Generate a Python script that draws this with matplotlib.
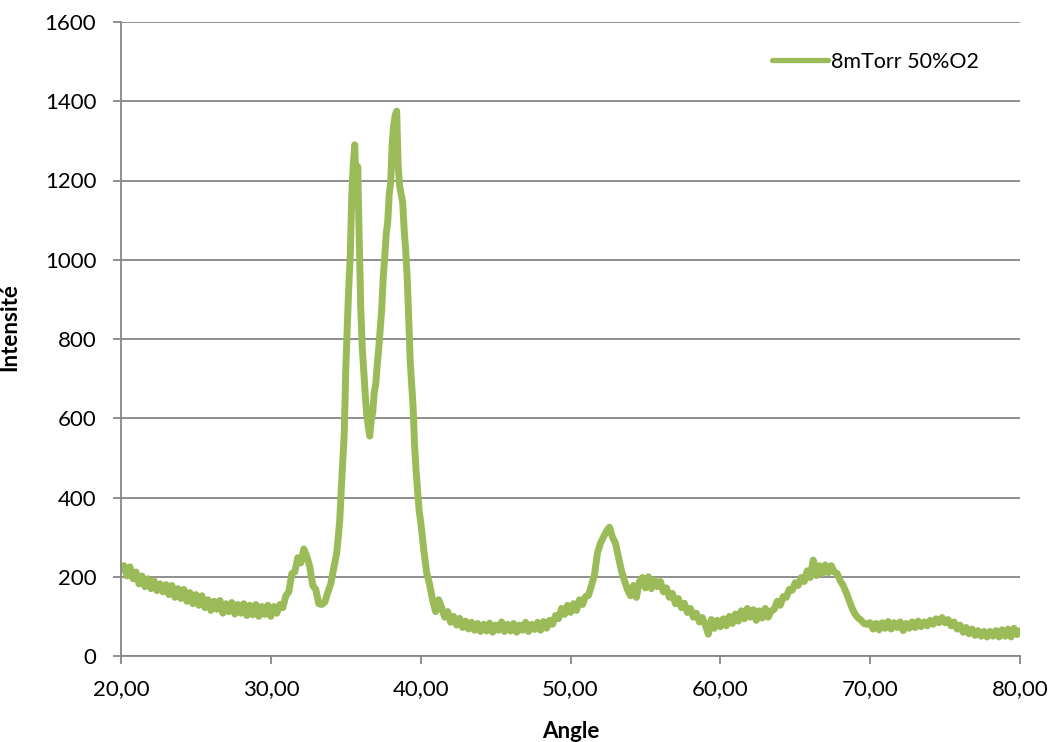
import numpy as np
import matplotlib
matplotlib.use("Agg")
import matplotlib.pyplot as plt

# ---- data ----
series_name = "8mTorr 50%O2"

# 20.0 -> 34.2 step 0.2
int_a = [218, 228, 202, 225, 195, 212, 182, 202, 175, 195,
         170, 190, 165, 182, 162, 180, 155, 178, 148, 170,
         145, 168, 138, 160, 132, 155, 128, 152, 122, 142,
         115, 138, 118, 140, 108, 132, 112, 135, 106, 130,
         108, 132, 102, 128, 104, 130, 100, 125, 105, 128,
         100, 125, 108, 130, 122, 152, 162, 208, 212, 248,
         235, 270, 252, 225, 178, 168, 132, 130, 136, 160,
         182, 222]
# 34.4 -> 39.9 step 0.1
int_b = [260, 300, 343, 420, 490, 560, 720, 830, 930, 1010,
         1160, 1240, 1290, 1170, 1235, 1050, 880, 780, 720, 660,
         610, 580, 555, 595, 615, 665, 685, 735, 775, 825,
         875, 955, 1005, 1065, 1095, 1165, 1195, 1295, 1340, 1365,
         1375, 1235, 1185, 1165, 1145, 1075, 1025, 955, 855, 745,
         685, 625, 525, 465, 415, 365]
# 40.0 -> 80.0 step 0.2
int_c = [340, 270, 210, 180, 140, 112, 142, 122, 98, 112,
         85, 100, 78, 95, 72, 88, 68, 85, 65, 82,
         62, 80, 63, 83, 60, 78, 65, 86, 62, 80,
         63, 82, 60, 78, 65, 85, 62, 80, 67, 85,
         65, 87, 70, 90, 80, 102, 94, 120, 105, 128,
         110, 132, 115, 142, 130, 150, 153, 178, 205, 260,
         285, 300, 315, 325, 300, 285, 250, 215, 190, 168,
         152, 178, 148, 188, 198, 172, 200, 170, 192, 175,
         188, 162, 172, 148, 158, 132, 145, 122, 133, 110,
         120, 98, 108, 86, 97, 78, 55, 92, 70, 90,
         74, 94, 76, 100, 82, 106, 88, 114, 94, 120,
         98, 117, 90, 114, 96, 120, 98, 114, 118, 138,
         128, 150, 148, 168, 166, 185, 178, 198, 188, 215,
         198, 242, 203, 228, 208, 230, 210, 228, 212, 208,
         190, 178, 160, 140, 120, 105, 96, 90, 82, 80,
         84, 68, 82, 66, 84, 70, 87, 68, 84, 72,
         86, 64, 82, 70, 86, 72, 88, 74, 86, 76,
         90, 80, 94, 84, 97, 84, 92, 76, 86, 68,
         78, 60, 72, 56, 68, 52, 64, 50, 62, 48,
         62, 50, 64, 48, 66, 50, 68, 48, 70, 54,
         64]

angle_a = 20.0 + 0.2 * np.arange(len(int_a))
angle_b = 34.4 + 0.1 * np.arange(len(int_b))
angle_c = 40.0 + 0.2 * np.arange(len(int_c))
angle = np.concatenate([angle_a, angle_b, angle_c])
intensity = np.concatenate([int_a, int_b, int_c])

x_ticks = [20, 30, 40, 50, 60, 70, 80]
x_tick_labels = ["20,00", "30,00", "40,00", "50,00", "60,00", "70,00", "80,00"]
y_ticks = [0, 200, 400, 600, 800, 1000, 1200, 1400, 1600]
y_tick_labels = [str(v) for v in y_ticks]

# ---- style ----
plt.rcParams['font.family'] = ['Lato', 'DejaVu Sans']
GREEN = '#9BBB59'
GRAY = '#868686'

W, H = 1052, 742
fig = plt.figure(figsize=(W / 100, H / 100), dpi=100)
ax = fig.add_axes([121 / W, 1 - 656 / H, 899 / W, 634 / H])

ax.plot(angle, intensity, color=GREEN, lw=5.0, solid_joinstyle='round',
        solid_capstyle='round', label=series_name)

ax.set_xlim(20, 80)
ax.set_ylim(0, 1600)
ax.set_xticks(x_ticks)
ax.set_xticklabels(x_tick_labels)
ax.set_yticks(y_ticks)
ax.set_yticklabels(y_tick_labels)

ax.grid(axis='y', color=GRAY, lw=1.3)
ax.set_axisbelow(True)
for s in ['top', 'right']:
    ax.spines[s].set_visible(False)
for s in ['left', 'bottom']:
    ax.spines[s].set_color(GRAY)
    ax.spines[s].set_linewidth(1.3)

ax.tick_params(axis='both', colors=GRAY, labelcolor='black', length=5.8,
               width=1.3, direction='out', labelsize=16)
ax.tick_params(axis='y', pad=12)
ax.tick_params(axis='x', pad=11)

ax.set_xlabel("Angle", fontsize=16, fontweight='bold')
ax.xaxis.set_label_coords(0.5, -0.103)
ax.set_ylabel("Intensité", fontsize=16, fontweight='bold')
ax.yaxis.set_label_coords(-0.112, 0.519)

leg = ax.legend(loc='center left', bbox_to_anchor=((772 - 121) / 899, (656 - 62) / 634),
                frameon=False, fontsize=15.5, handlelength=2.6, handletextpad=0.15,
                borderpad=0, borderaxespad=0)
for ln in leg.get_lines():
    ln.set_linewidth(3.8)
    ln.set_solid_capstyle('round')

fig.savefig('out.png', dpi=100)
